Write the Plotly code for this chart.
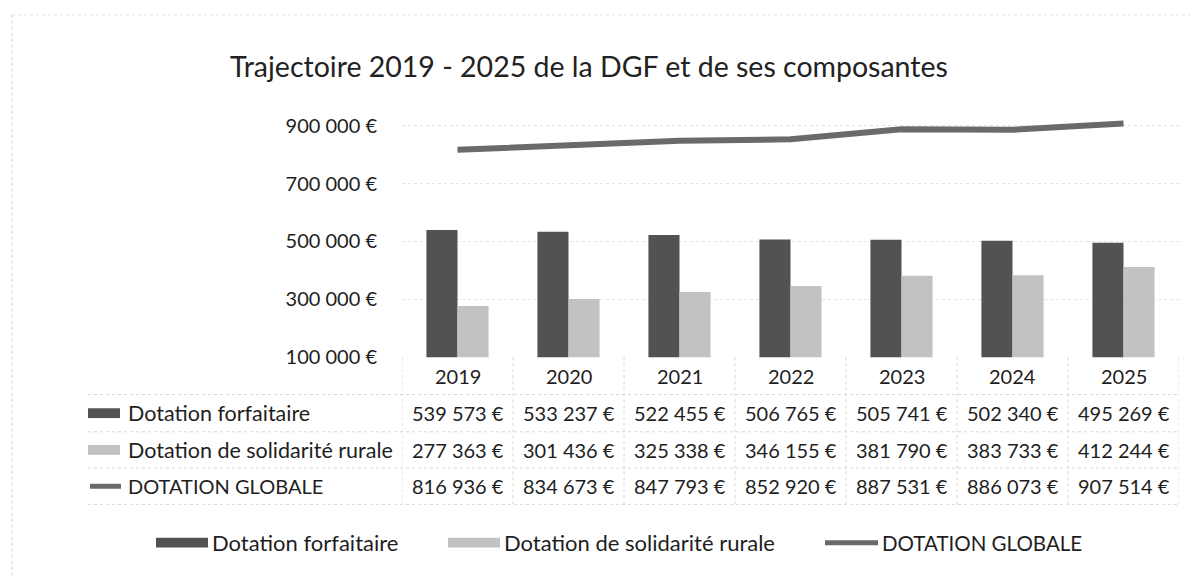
import plotly.graph_objects as go

# Page body has an 8px margin: the figure is sized and positioned to compensate.
OFF = 8
W, H = 1198 - OFF, 588 - OFF
FONT = "Lato, sans-serif"

years = ["2019", "2020", "2021", "2022", "2023", "2024", "2025"]
forfaitaire = [539573, 533237, 522455, 506765, 505741, 502340, 495269]
solidarite = [277363, 301436, 325338, 346155, 381790, 383733, 412244]
globale = [816936, 834673, 847793, 852920, 887531, 886073, 907514]

series_names = ["Dotation forfaitaire", "Dotation de solidarité rurale", "DOTATION GLOBALE"]
tick_vals = [100000, 300000, 500000, 700000, 900000]
title_text = "Trajectoire 2019 - 2025 de la DGF et de ses composantes"

C_DARK = "#525252"
C_LIGHT = "#c2c2c2"
C_LINE = "#6a6a6a"
C_GRID = "#d6d6d6"
C_TEXT = "#1e1e1e"


def fmt(v):
    return f"{v:,}".replace(",", " ") + " €"


def px(x):
    return (x - OFF) / W


def py(y):
    return 1 - (y - OFF) / H


PLOT_L, PLOT_R = 402, 1179
PLOT_T, PLOT_B = 98.5, 364
idx = list(range(len(years)))

fig = go.Figure()
fig.add_trace(go.Bar(x=years, y=forfaitaire, name=series_names[0], marker=dict(color=C_DARK, line=dict(width=0))))
fig.add_trace(go.Bar(x=years, y=solidarite, name=series_names[1], marker=dict(color=C_LIGHT, line=dict(width=0))))
fig.add_trace(go.Scatter(x=years, y=globale, name=series_names[2], mode="lines",
                         line=dict(color=C_LINE, width=6)))

annotations = []
shapes = []

row_bounds = [364, 402, 440, 477, 514]
row_centers = [(row_bounds[i] + row_bounds[i + 1]) / 2 for i in range(4)]
label_sizes = [21.5, 21.5, 20]

for i, yr in zip(idx, years):
    annotations.append(dict(x=i, y=py(row_centers[0]), xref="x", yref="paper", text=yr,
                            showarrow=False, xanchor="center", yanchor="middle",
                            font=dict(family=FONT, size=20, color=C_TEXT)))
for r, vals in enumerate([forfaitaire, solidarite, globale]):
    for i, v in zip(idx, vals):
        annotations.append(dict(x=i, y=py(row_centers[r + 1]), xref="x", yref="paper", text=fmt(v),
                                showarrow=False, xanchor="center", yanchor="middle",
                                font=dict(family=FONT, size=20, color=C_TEXT)))
    annotations.append(dict(x=px(126), y=py(row_centers[r + 1]), xref="paper", yref="paper",
                            text=series_names[r], showarrow=False, xanchor="left", yanchor="middle",
                            font=dict(family=FONT, size=label_sizes[r], color=C_TEXT)))

for r, col in enumerate([C_DARK, C_LIGHT]):
    yc = row_centers[r + 1]
    shapes.append(dict(type="rect", xref="paper", yref="paper", x0=px(88), x1=px(120),
                       y0=py(yc + 5), y1=py(yc - 5), fillcolor=col, line=dict(width=0)))
yc = row_centers[3]
shapes.append(dict(type="line", xref="paper", yref="paper", x0=px(90), x1=px(121),
                   y0=py(yc), y1=py(yc), line=dict(color=C_LINE, width=5)))

for i in range(len(years) + 1):
    shapes.append(dict(type="line", xref="x", yref="paper", x0=i - 0.5, x1=i - 0.5,
                       y0=py(row_bounds[0]), y1=py(row_bounds[-1]),
                       line=dict(color=C_GRID, width=1, dash="dot")))
for yb in row_bounds[1:]:
    shapes.append(dict(type="line", xref="paper", yref="paper", x0=px(88), x1=px(PLOT_R),
                       y0=py(yb), y1=py(yb), line=dict(color=C_GRID, width=1, dash="dot")))
# Chart-area frame (left and top, faint dotted)
shapes.append(dict(type="line", xref="paper", yref="paper", x0=px(12), x1=px(12),
                   y0=py(15), y1=py(587), line=dict(color="#cfcfcf", width=1, dash="dot")))
shapes.append(dict(type="line", xref="paper", yref="paper", x0=px(12), x1=px(1198),
                   y0=py(15), y1=py(15), line=dict(color="#e2e2e2", width=1, dash="dot")))

LEG_Y = 553
legend_items = [
    ("rect", C_DARK, 156, 208, 210, series_names[0], 22),
    ("rect", C_LIGHT, 448, 500, 502, series_names[1], 22),
    ("line", C_LINE, 825, 878, 880, series_names[2], 20.5),
]
for kind, col, k0, k1, tx, label, fs in legend_items:
    if kind == "rect":
        shapes.append(dict(type="rect", xref="paper", yref="paper", x0=px(k0), x1=px(k1),
                           y0=py(LEG_Y + 5), y1=py(LEG_Y - 5), fillcolor=col, line=dict(width=0)))
    else:
        shapes.append(dict(type="line", xref="paper", yref="paper", x0=px(k0), x1=px(k1),
                           y0=py(LEG_Y), y1=py(LEG_Y), line=dict(color=col, width=5)))
    annotations.append(dict(x=px(tx), y=py(LEG_Y), xref="paper", yref="paper", text=label,
                            showarrow=False, xanchor="left", yanchor="middle",
                            font=dict(family=FONT, size=fs, color=C_TEXT)))

annotations.append(dict(x=px(589), y=py(67), xref="paper", yref="paper", text=title_text,
                        showarrow=False, xanchor="center", yanchor="middle",
                        font=dict(family=FONT, size=28.5, color="#222222")))

fig.update_layout(
    width=W, height=H,
    margin=dict(l=0, r=0, t=0, b=0),
    paper_bgcolor="white", plot_bgcolor="white",
    showlegend=False,
    barmode="group", bargap=0.44, bargroupgap=0,
    annotations=annotations,
    shapes=shapes,
    xaxis=dict(domain=[px(PLOT_L), px(PLOT_R)], type="category", range=[-0.5, len(years) - 0.5],
               autorange=False, showticklabels=False,
               showgrid=False, zeroline=False, showline=False, ticks=""),
    yaxis=dict(domain=[py(PLOT_B), py(PLOT_T)], range=[100000, 1000000], autorange=False,
               tickvals=tick_vals, ticktext=[fmt(v) for v in tick_vals],
               tickfont=dict(family=FONT, size=20, color=C_TEXT),
               showgrid=True, gridcolor="#e4e4e4", griddash="dot", gridwidth=1,
               zeroline=False, showline=False, ticks="", ticklabelstandoff=24),
)

fig.write_html("out.html")
